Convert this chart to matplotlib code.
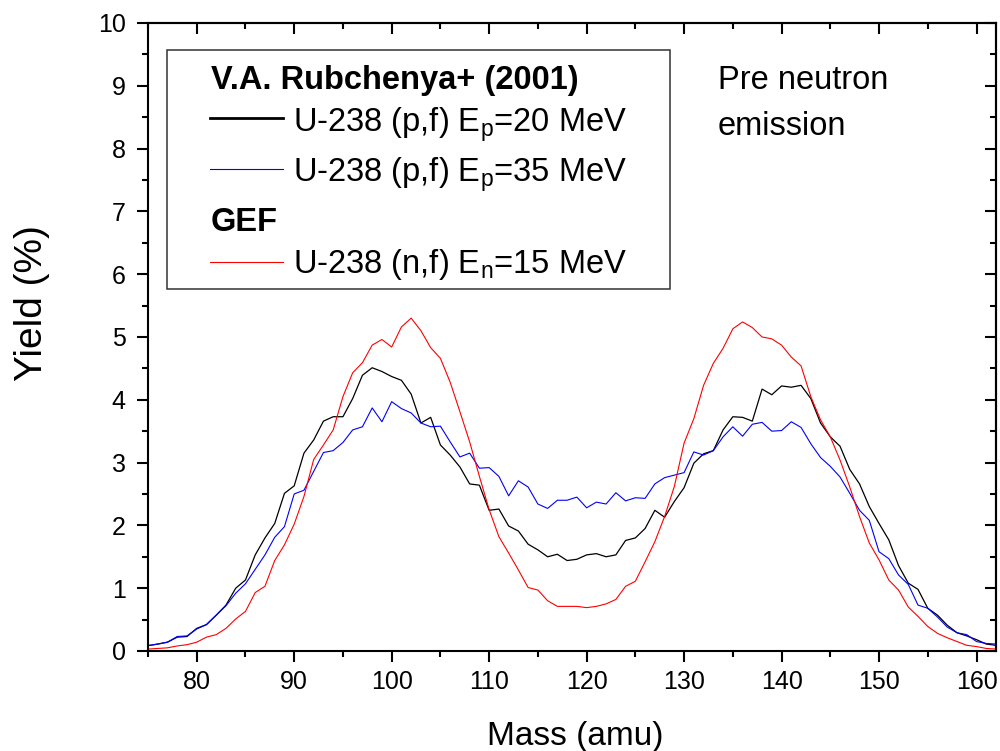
import numpy as np
import matplotlib.pyplot as plt
from matplotlib.patches import Rectangle
from matplotlib.lines import Line2D
from matplotlib.ticker import MultipleLocator

plt.rcParams['font.family'] = ['Liberation Sans', 'DejaVu Sans']
plt.rcParams['mathtext.fontset'] = 'custom'
plt.rcParams['mathtext.rm'] = 'Liberation Sans'

mass = np.arange(75, 163)

# V.A. Rubchenya+ (2001), U-238 (p,f) Ep=20 MeV
yield_p20 = [
    0.085, 0.11, 0.14, 0.22, 0.23, 0.36, 0.42, 0.57, 0.73, 1.00,
    1.13, 1.53, 1.80, 2.03, 2.51, 2.63, 3.15, 3.36, 3.66, 3.73,
    3.73, 4.02, 4.39, 4.51, 4.45, 4.37, 4.31, 4.09, 3.63, 3.72,
    3.28, 3.12, 2.93, 2.66, 2.64, 2.24, 2.26, 1.99, 1.91, 1.70,
    1.61, 1.50, 1.54, 1.44, 1.46, 1.53, 1.55, 1.50, 1.53, 1.76,
    1.80, 1.95, 2.24, 2.13, 2.38, 2.60, 2.99, 3.14, 3.19, 3.52,
    3.73, 3.72, 3.66, 4.17, 4.08, 4.22, 4.20, 4.23, 4.02, 3.63,
    3.41, 3.26, 2.89, 2.66, 2.30, 2.03, 1.77, 1.36, 1.08, 0.98,
    0.68, 0.57, 0.41, 0.29, 0.24, 0.18, 0.11, 0.09,
]

# V.A. Rubchenya+ (2001), U-238 (p,f) Ep=35 MeV
yield_p35 = [
    0.085, 0.11, 0.14, 0.23, 0.24, 0.35, 0.42, 0.57, 0.72, 0.92,
    1.07, 1.30, 1.53, 1.81, 1.98, 2.50, 2.56, 2.86, 3.16, 3.19,
    3.32, 3.52, 3.57, 3.87, 3.65, 3.97, 3.86, 3.79, 3.63, 3.57,
    3.58, 3.33, 3.09, 3.15, 2.91, 2.92, 2.78, 2.47, 2.71, 2.61,
    2.34, 2.27, 2.40, 2.40, 2.45, 2.28, 2.37, 2.34, 2.52, 2.39,
    2.44, 2.43, 2.66, 2.76, 2.80, 2.84, 3.17, 3.12, 3.19, 3.41,
    3.57, 3.42, 3.61, 3.64, 3.50, 3.51, 3.65, 3.56, 3.30, 3.08,
    2.94, 2.77, 2.51, 2.24, 2.08, 1.58, 1.47, 1.21, 1.06, 0.73,
    0.68, 0.54, 0.38, 0.29, 0.26, 0.15, 0.12, 0.11,
]

# GEF, U-238 (n,f) En=15 MeV
yield_gef = [
    0.03, 0.04, 0.05, 0.08, 0.10, 0.14, 0.22, 0.26, 0.36, 0.51,
    0.63, 0.93, 1.03, 1.44, 1.69, 2.02, 2.46, 3.05, 3.28, 3.52,
    4.05, 4.43, 4.59, 4.87, 4.96, 4.84, 5.16, 5.30, 5.10, 4.83,
    4.66, 4.28, 3.81, 3.33, 2.78, 2.25, 1.82, 1.56, 1.29, 1.01,
    0.97, 0.80, 0.71, 0.71, 0.71, 0.69, 0.71, 0.75, 0.82, 1.03,
    1.11, 1.42, 1.74, 2.14, 2.62, 3.31, 3.70, 4.23, 4.58, 4.82,
    5.13, 5.24, 5.15, 5.00, 4.97, 4.87, 4.68, 4.54, 4.05, 3.68,
    3.41, 3.04, 2.61, 2.14, 1.72, 1.45, 1.13, 0.97, 0.70, 0.55,
    0.39, 0.28, 0.21, 0.15, 0.09, 0.07, 0.04, 0.03,
]

fig = plt.figure(figsize=(10, 7.51), dpi=100)
ax = fig.add_axes([0.148, 0.1332, 0.848, 0.8362])

ax.plot(mass, yield_p20, color='black', lw=0.9)
ax.plot(mass, yield_p35, color='#0000ff', lw=0.8)
ax.plot(mass, yield_gef, color='#ff0000', lw=0.8)

ax.set_xlim(75, 162)
ax.set_ylim(0, 10)
ax.xaxis.set_major_locator(MultipleLocator(10))
ax.xaxis.set_minor_locator(MultipleLocator(5))
ax.yaxis.set_major_locator(MultipleLocator(1))
ax.yaxis.set_minor_locator(MultipleLocator(0.5))
ax.set_xticks(np.arange(80, 161, 10))

for s in ax.spines.values():
    s.set_linewidth(1.5)
ax.tick_params(which='both', direction='out', width=1.5, labelsize=18)
ax.tick_params(which='major', length=8)
ax.tick_params(which='minor', length=4.5)
ax.tick_params(axis='y', pad=8)
ax.tick_params(axis='x', pad=6)

# mirrored ticks pointing inward on top and right
top = ax.secondary_xaxis('top')
top.xaxis.set_major_locator(MultipleLocator(10))
top.xaxis.set_minor_locator(MultipleLocator(5))
top.tick_params(which='both', direction='in', width=1.5, labeltop=False)
top.tick_params(which='major', length=8)
top.tick_params(which='minor', length=4.5)
right = ax.secondary_yaxis('right')
right.yaxis.set_major_locator(MultipleLocator(1))
right.yaxis.set_minor_locator(MultipleLocator(0.5))
right.tick_params(which='both', direction='in', width=1.5, labelright=False)
right.tick_params(which='major', length=8)
right.tick_params(which='minor', length=4.5)
for sec in (top, right):
    for s in sec.spines.values():
        s.set_linewidth(1.5)

ax.set_xlabel('Mass (amu)', fontsize=24)
ax.set_ylabel('Yield (%)', fontsize=28)
ax.xaxis.set_label_coords(0.5035, -0.111)
ax.yaxis.set_label_coords(-0.115, 0.554)

# legend box drawn by hand
tr = ax.transAxes
ax.add_patch(Rectangle((0.0224, 0.5764), 0.5932, 0.3806, transform=tr,
                       fill=False, edgecolor='#333333', lw=1.1, zorder=5))
fs = 23.5
ax.text(0.0743, 0.8944, 'V.A. Rubchenya+ (2001)', transform=tr,
        fontsize=fs, fontweight='bold', va='baseline')
ax.text(0.0743, 0.6693, 'GEF', transform=tr,
        fontsize=fs, fontweight='bold', va='baseline')
entries = [
    (0.8482, 0.828, 'black', 2.0, r'U-238 (p,f) E$_\mathregular{p}$=20 MeV'),
    (0.767, 0.7473, '#0000ff', 0.8, r'U-238 (p,f) E$_\mathregular{p}$=35 MeV'),
    (0.62, 0.6014, '#ff0000', 0.8, r'U-238 (n,f) E$_\mathregular{n}$=15 MeV'),
]
for ly, ty, c, w, label in entries:
    ax.add_line(Line2D([0.0731, 0.1596], [ly, ly], transform=tr, color=c, lw=w))
    ax.text(0.1714, ty, label, transform=tr, fontsize=fs, va='baseline')

ax.text(0.672, 0.8949, 'Pre neutron', transform=tr, fontsize=fs, va='baseline')
ax.text(0.672, 0.8217, 'emission', transform=tr, fontsize=fs, va='baseline')

fig.savefig('out.png', dpi=100)
